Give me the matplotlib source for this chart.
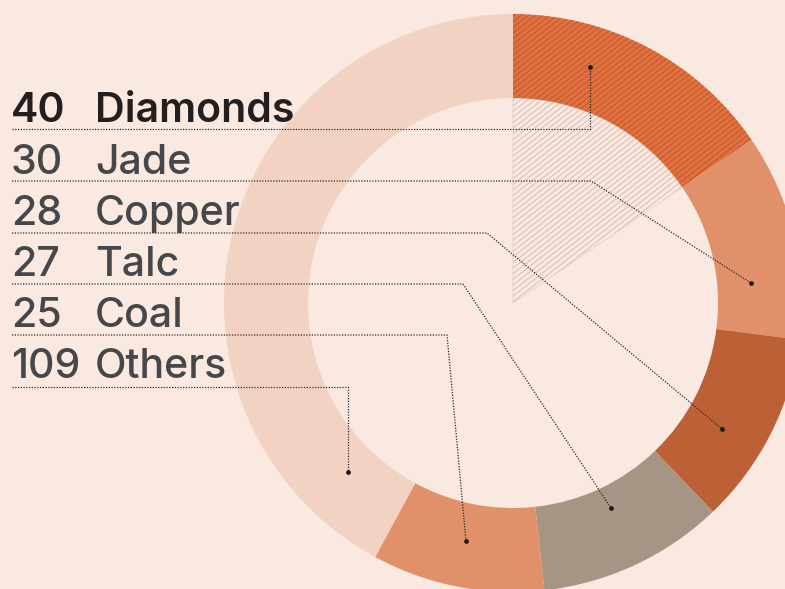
import matplotlib
matplotlib.use("Agg")
import numpy as np
import matplotlib.pyplot as plt
from matplotlib.collections import LineCollection

# ---- data ----
categories = ["Diamonds", "Jade", "Copper", "Talc", "Coal", "Others"]
values = [40, 30, 28, 27, 25, 109]
value_labels = ["40", "30", "28", "27", "25", "109"]

# ---- style / layout ----
colors = ["#e2703f", "#e0916a", "#bc6035", "#a69484", "#e0916a", "#f2d3c3"]
bg = "#f9e9e0"
W, H = 785, 589
cx, cy = 513, H - 303
r_out, r_in = 289, 205

# leader line layout (pixel coords: row line y, elbow x, end point)
row_y = [129, 181, 233, 284, 335, 387]
elbow_x = [590, 591, 487, 463, 447, 348]
end_pts = [(590, 67), (751, 283), (722, 429), (611, 508), (466, 541), (348, 472)]
baseline_y = [122, 174, 225, 276, 327, 378]

fig = plt.figure(figsize=(W / 100, H / 100), dpi=100)
fig.patch.set_facecolor(bg)
ax = fig.add_axes([0, 0, 1, 1])
ax.set_facecolor(bg)

# inner wedge for Diamonds (background coloured, hatched)
inner, _ = ax.pie(values, startangle=90, counterclock=False, radius=r_in,
                  center=(cx, cy), frame=False,
                  wedgeprops=dict(linewidth=0.6, edgecolor="#efcfc0"))
for i, w in enumerate(inner):
    if i == 0:
        w.set_facecolor(bg)
    else:
        w.set_visible(False)

# donut
wedges, _ = ax.pie(values, startangle=90, counterclock=False, radius=r_out,
                   center=(cx, cy), colors=colors, frame=False,
                   wedgeprops=dict(width=r_out - r_in, linewidth=0))


def hatch(patch, color, lw, spacing=5.6, angle=38):
    t = np.tan(np.radians(angle))
    offs = np.arange(-1200, 1200, spacing)
    segs = [[(0, c), (W, c + W * t)] for c in offs]
    lc = LineCollection(segs, colors=color, linewidths=lw, zorder=patch.get_zorder() + 0.1)
    ax.add_collection(lc)
    lc.set_clip_path(patch)


hatch(inner[0], "#d2bbb0", 0.65)
hatch(wedges[0], "#b9562f", 0.65)

ax.set_xlim(0, W)
ax.set_ylim(0, H)
ax.set_aspect("equal")
ax.axis("off")

# leader lines
for i in range(len(categories)):
    y = H - row_y[i]
    ex, ey = end_pts[i]
    ax.plot([12, elbow_x[i], ex], [y, y, H - ey], color="#2a2a2a",
            linestyle=(0, (1, 1.2)), linewidth=0.9, zorder=5)
    ax.plot([ex], [H - ey], marker="o", markersize=2.4, color="#1a1a1a", zorder=6)

# labels
font = "Inter"
for i, (cat, lab) in enumerate(zip(categories, value_labels)):
    col = "#231f20" if i == 0 else "#45474a"
    wt = "semibold" if i == 0 else "medium"
    ax.text(11, H - baseline_y[i], lab, fontsize=29.6, family=font, color=col,
            weight=wt, va="baseline", ha="left", zorder=7)
    ax.text(95, H - baseline_y[i], cat, fontsize=29.6, family=font, color=col,
            weight=wt, va="baseline", ha="left", zorder=7)

fig.savefig("out.png", dpi=100, facecolor=bg)
